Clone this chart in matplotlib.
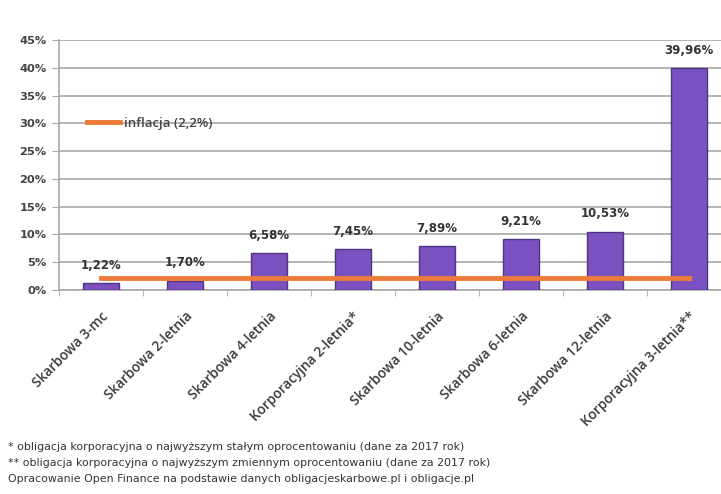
import matplotlib
matplotlib.use("Agg")
import matplotlib.pyplot as plt
import matplotlib.transforms as mtransforms
import numpy as np

categories = ["Skarbowa 3-mc", "Skarbowa 2-letnia", "Skarbowa 4-letnia",
              "Korporacyjna 2-letnia*", "Skarbowa 10-letnia", "Skarbowa 6-letnia",
              "Skarbowa 12-letnia", "Korporacyjna 3-letnia**"]
values = [1.22, 1.70, 6.58, 7.45, 7.89, 9.21, 10.53, 39.96]
inflation = [2.2] * len(categories)
inflation_label = "inflacja (2,2%)"
yticks = [0, 5, 10, 15, 20, 25, 30, 35, 40, 45]
footnotes = [
    "* obligacja korporacyjna o najwyższym stałym oprocentowaniu (dane za 2017 rok)",
    "** obligacja korporacyjna o najwyższym zmiennym oprocentowaniu (dane za 2017 rok)",
    "Opracowanie Open Finance na podstawie danych obligacjeskarbowe.pl i obligacje.pl",
]

plt.rcParams['font.family'] = ['Open Sans', 'DejaVu Sans']

fig = plt.figure(figsize=(7.21, 4.94), dpi=100)
ax = fig.add_axes([59/721, (494-290)/494, (731-59)/721, 250/494])

x = np.arange(len(categories))
ax.bar(x, values, width=0.42, color="#7B50C0", edgecolor="#4E3580",
       linewidth=1.0, zorder=3)
ax.plot(x, inflation, color="#EE7A3A", linewidth=3.5, zorder=4, label=inflation_label)

for xi, v in zip(x, values):
    ax.annotate(f"{v:.2f}%".replace(".", ","), (xi, v), xytext=(0, 8),
                textcoords="offset points", ha="center", va="bottom",
                fontsize=8.5, fontweight="bold", color="#333333",
                family=["DejaVu Sans"])

ax.set_xlim(-0.5, len(categories) - 0.5)
ax.set_ylim(0, 45)
ax.set_yticks(yticks)
ax.set_yticklabels([f"{t}%" for t in yticks], fontsize=8.2, fontweight="bold",
                   color="#444444", family=["DejaVu Sans"])
ax.yaxis.grid(True, color="#A8A8A8", linewidth=1.2, zorder=0)
ax.set_axisbelow(True)

ax.set_xticks(x)
ax.set_xticklabels(categories, rotation=45, ha="right", rotation_mode="anchor",
                   fontsize=9.8, color="#3A3A3A", fontweight="semibold")
shift = mtransforms.ScaledTranslation(-8/100, 0, fig.dpi_scale_trans)
for lab in ax.get_xticklabels():
    lab.set_transform(lab.get_transform() + shift)
ax.set_xticks(np.arange(len(categories) + 1) - 0.5, minor=True)
ax.tick_params(axis="x", which="major", length=0, pad=14)
ax.tick_params(axis="x", which="minor", length=4, color="#A8A8A8")
ax.tick_params(axis="y", length=5, color="#A8A8A8", pad=4)

for s in ["top", "right"]:
    ax.spines[s].set_visible(False)
for s in ["left", "bottom"]:
    ax.spines[s].set_color("#A8A8A8")
    ax.spines[s].set_linewidth(1.2)

leg = ax.legend(loc="center left", bbox_to_anchor=((87-59)/672, 30/45), frameon=False,
                fontsize=9.5, handlelength=2.5, handletextpad=0.3,
                borderaxespad=0, borderpad=0)
for t in leg.get_texts():
    t.set_color("#444444")
    t.set_fontweight("semibold")

ys = [447, 463, 479]
for y, t in zip(ys, footnotes):
    fig.text(8/721, (494-y)/494, t, fontsize=7.9, color="#333333", va="center",
             ha="left", family=["DejaVu Sans"])

fig.savefig("out.png", dpi=100)
